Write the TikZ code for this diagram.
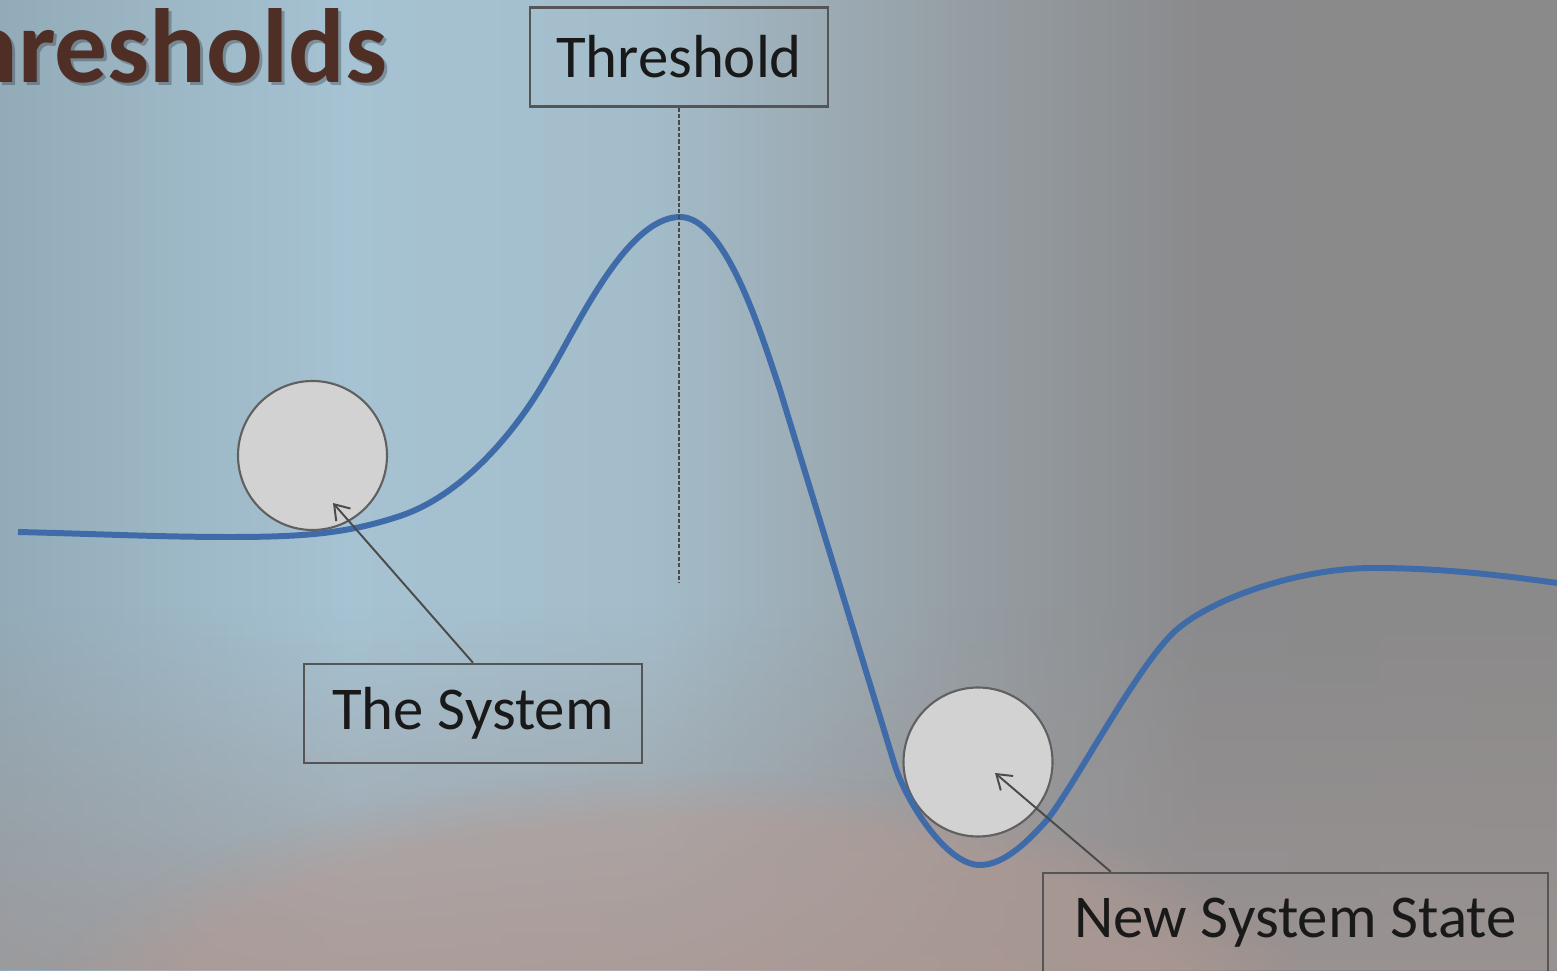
\documentclass[tikz,border=0pt]{standalone}
\usepackage{fontspec}
\setmainfont{Carlito}
\usetikzlibrary{arrows.meta,positioning,fadings}

\definecolor{bgA}{HTML}{93ABB8}
\definecolor{bgB}{HTML}{A6C3D3}
\definecolor{bgC}{HTML}{A3BCC9}
\definecolor{bgD}{HTML}{969FA5}
\definecolor{bgE}{HTML}{8A8A8C}
\definecolor{bgF}{HTML}{8B8A8A}
\definecolor{bglow}{HTML}{9E9594}
\definecolor{bgpink}{HTML}{B99A90}
\definecolor{titlebrown}{HTML}{4F2F25}
\definecolor{curveblue}{HTML}{3F6CA8}
\definecolor{boxgray}{HTML}{555555}
\definecolor{linegray}{HTML}{4A4A4A}
\definecolor{ballfill}{HTML}{D2D2D2}
\definecolor{ballrim}{HTML}{606060}

\begin{document}
\begin{tikzpicture}[
  labelbox/.style={draw=boxgray, line width=0.7pt, rectangle, minimum height=0.99cm, text=black!90, font=\fontsize{17.3}{20}\selectfont},
  ball/.style={circle, draw=ballrim, fill=ballfill, line width=0.6pt, minimum size=1.49cm, inner sep=0pt},
  pointer/.style={-{Straight Barb[length=1.4mm, width=1.9mm]}, draw=linegray, line width=0.55pt},
  curveline/.style={draw=curveblue, line width=1.7pt}
]
\useasboundingbox (0,0) rectangle (15.57,9.70);
\clip (0,0) rectangle (15.57,9.70);

% Background
\shade[left color=bgA, right color=bgB] (0,0) rectangle (3.52,9.7);
\shade[left color=bgB, right color=bgC] (3.5,0) rectangle (6.52,9.7);
\shade[left color=bgC, right color=bgD] (6.5,0) rectangle (9.52,9.7);
\shade[left color=bgD, right color=bgE] (9.5,0) rectangle (12.02,9.7);
\shade[left color=bgE, right color=bgF] (12,0) rectangle (15.57,9.7);
\fill[bglow, opacity=0.75, path fading=north] (0,0) rectangle (15.57,3.6);
\fill[bgpink, opacity=0.45, path fading=circle with fuzzy edge 20 percent] (6.8,-0.6) ellipse (6.5 and 2.6);

% Title
\node[anchor=base east, inner sep=0pt, text=black, opacity=0.25, font=\bfseries\fontsize{30}{32}\selectfont] at (3.91,8.84) {Thresholds};
\node[anchor=base east, inner sep=0pt, text=titlebrown, font=\bfseries\fontsize{30}{32}\selectfont] (title) at (3.88,8.87) {Thresholds};

% Balls
\node[ball] (sysball) at (3.125,5.145) {};
\node[ball] (newball) at (9.78,2.08) {};

% Landscape curve
\draw[curveline] (0.18,4.38)
  .. controls (1.0,4.36) and (1.6,4.33) .. (2.30,4.33)
  .. controls (3.0,4.33) and (3.45,4.36) .. (3.97,4.53)
  .. controls (4.65,4.74) and (5.2,5.45) .. (5.47,5.93)
  .. controls (5.735,6.354) and (6.25,7.53) .. (6.80,7.53)
  .. controls (7.25,7.53) and (7.6,6.4) .. (7.80,5.80)
  -- (8.95,2.04)
  .. controls (9.05,1.72) and (9.45,1.05) .. (9.80,1.05)
  .. controls (10.05,1.05) and (10.30,1.31) .. (10.47,1.50)
  .. controls (10.75,1.855) and (11.35,3.0) .. (11.73,3.37)
  .. controls (12.09,3.715) and (13.0,4.02) .. (13.73,4.02)
  .. controls (14.4,4.02) and (15.0,3.95) .. (15.57,3.87);

% Labels
\node[labelbox, minimum width=2.98cm] (threshold) at (6.79,9.13) {Threshold};
\node[labelbox, minimum width=3.38cm] (system) at (4.73,2.565) {The System};
\node[labelbox, minimum width=5.05cm] (newstate) at (12.955,0.475) {New System State};

% Pointers
\coordinate (peakfoot) at (6.79,3.87);
\coordinate (systip) at (3.33,4.67);
\coordinate (newtip) at (9.95,1.97);
\draw[linegray, line width=0.4pt, dash pattern=on 1.2pt off 0.6pt] (threshold.south) -- (peakfoot);
\draw[pointer] (system.north) -- (systip);
\draw[pointer] ([xshift=0.69cm]newstate.north west) -- (newtip);
\end{tikzpicture}
\end{document}
